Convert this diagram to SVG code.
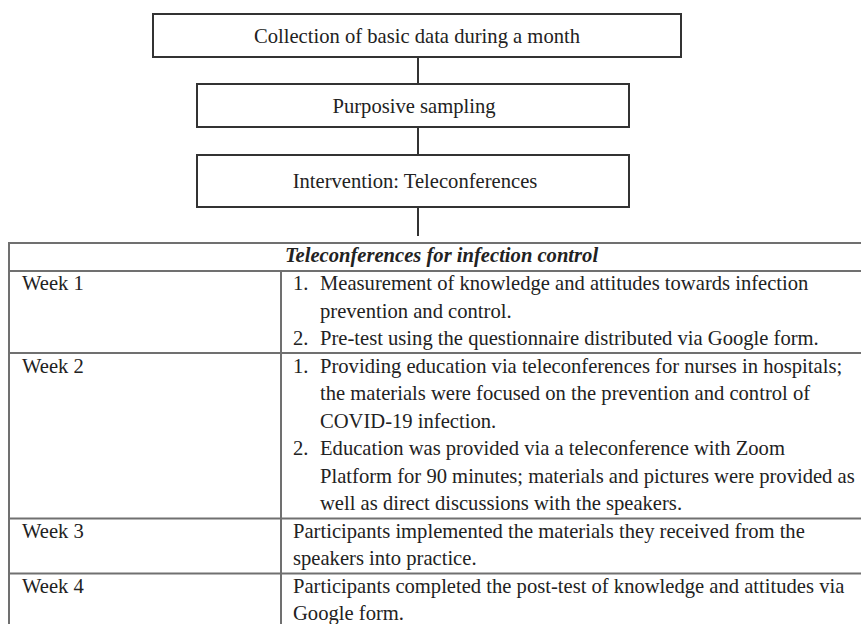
<svg xmlns="http://www.w3.org/2000/svg" width="861" height="624" viewBox="0 0 861 624">
<style>
.bg{fill:#ffffff}
.box{fill:#ffffff;stroke:#333333;stroke-width:2}
.conn{stroke:#333333;stroke-width:2;fill:none}
.grid{stroke:#707070;stroke-width:2;fill:none}
text{font-family:"Liberation Serif","Times New Roman",serif;font-size:20.6px;fill:#222222}
.c{text-anchor:middle}
.h{font-weight:bold;font-style:italic}
</style>
<rect class="bg" x="0" y="0" width="861" height="624"/>
<g id="connectors">
<line class="conn" x1="418" y1="57" x2="418" y2="84"/>
<line class="conn" x1="418" y1="127" x2="418" y2="155"/>
<line class="conn" x1="418" y1="207" x2="418" y2="236"/>
</g>
<g id="n1"><rect class="box" x="153" y="14" width="528" height="43"/><text class="c" x="417" y="43">Collection of basic data during a month</text></g>
<g id="n2"><rect class="box" x="197" y="84" width="432" height="43"/><text class="c" x="414" y="113">Purposive sampling</text></g>
<g id="n3"><rect class="box" x="197" y="155" width="432" height="52"/><text class="c" x="415" y="188">Intervention: Teleconferences</text></g>
<g id="table">
<line class="grid" x1="9" y1="243" x2="870" y2="243"/>
<line class="grid" x1="9" y1="271" x2="870" y2="271"/>
<line class="grid" x1="9" y1="353" x2="870" y2="353"/>
<line class="grid" x1="9" y1="518.5" x2="870" y2="518.5"/>
<line class="grid" x1="9" y1="573.5" x2="870" y2="573.5"/>
<line class="grid" x1="9" y1="242" x2="9" y2="630"/>
<line class="grid" x1="281" y1="271" x2="281" y2="630"/>
<text class="c h" x="441.5" y="262">Teleconferences for infection control</text>
<text x="22" y="290">Week 1</text>
<text x="293" y="290">1.</text><text x="320" y="290">Measurement of knowledge and attitudes towards infection</text>
<text x="320" y="317.5">prevention and control.</text>
<text x="293" y="345">2.</text><text x="320" y="345">Pre-test using the questionnaire distributed via Google form.</text>
<text x="22" y="372.5">Week 2</text>
<text x="293" y="372.5">1.</text><text x="320" y="372.5">Providing education via teleconferences for nurses in hospitals;</text>
<text x="320" y="400">the materials were focused on the prevention and control of</text>
<text x="320" y="427.5">COVID-19 infection.</text>
<text x="293" y="455">2.</text><text x="320" y="455">Education was provided via a teleconference with Zoom</text>
<text x="320" y="482.5">Platform for 90 minutes; materials and pictures were provided as</text>
<text x="320" y="510">well as direct discussions with the speakers.</text>
<text x="22" y="537.5">Week 3</text>
<text x="293" y="537.5">Participants implemented the materials they received from the</text>
<text x="293" y="565">speakers into practice.</text>
<text x="22" y="592.5">Week 4</text>
<text x="293" y="592.5">Participants completed the post-test of knowledge and attitudes via</text>
<text x="293" y="620">Google form.</text>
</g>
</svg>
